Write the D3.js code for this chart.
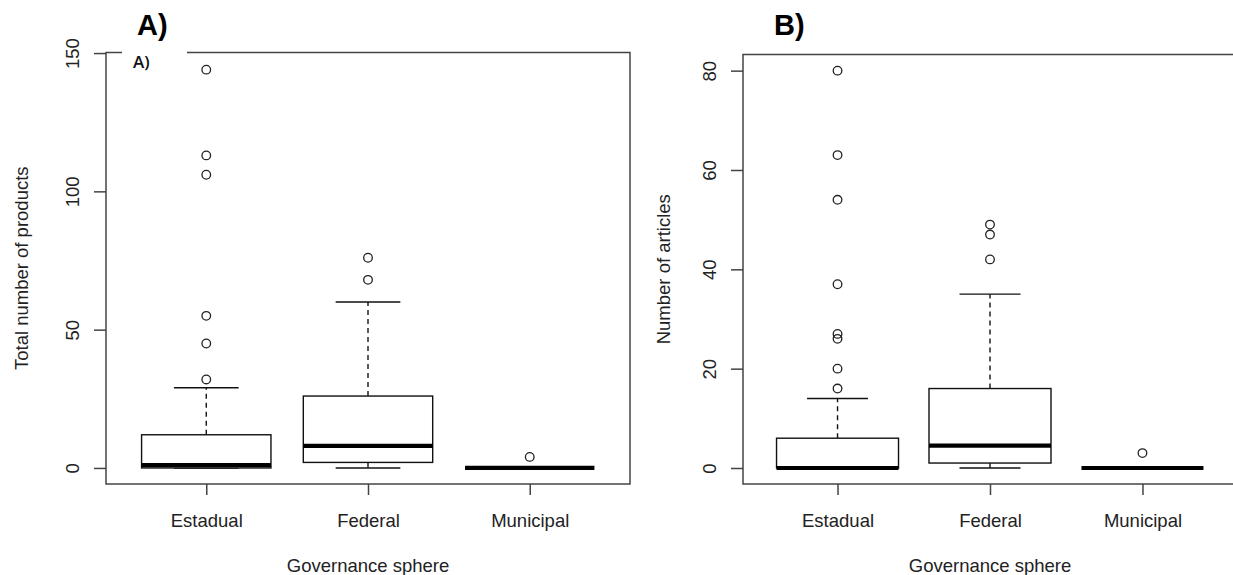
<!DOCTYPE html>
<html>
<head>
<meta charset="utf-8">
<script src="https://cdn.jsdelivr.net/npm/d3@7"></script>
<style>
  body { margin: 0; background: #fff; }
  svg { display: block; font-family: "Liberation Sans", Arial, sans-serif; }
</style>
</head>
<body>
<svg id="canvas"></svg>
<script>
let width = 1233;
let height = 575;

// categories
let categories = ['Estadual', 'Federal', 'Municipal'];

// A) total number of products
let productsQ1 = [0, 2, 0];
let productsMedian = [1, 8, 0];
let productsQ3 = [12, 26, 0];
let productsLow = [0, 0, 0];
let productsHigh = [29, 60, 0];
let productsOutliers = [[32, 45, 55, 106, 113, 144], [68, 76], [4]];
let productsTicks = [0, 50, 100, 150];

// B) number of articles
let articlesQ1 = [0, 1, 0];
let articlesMedian = [0, 4.5, 0];
let articlesQ3 = [6, 16, 0];
let articlesLow = [0, 0, 0];
let articlesHigh = [14, 35, 0];
let articlesOutliers = [[16, 20, 26, 27, 37, 54, 63, 80], [42, 47, 49], [3]];
let articlesTicks = [0, 20, 40, 60, 80];

let canvas = d3.select('#canvas').attr('width', width).attr('height', height);
canvas.append('rect').attr('width', width).attr('height', height).attr('fill', '#fff');

let axisColor = '#444';
let textColor = '#222';

let drawPanel = (p) => {
	let xScale = d3.scaleLinear().domain([0.38, 3.62]).range([p.left, p.right]);
	let yScale = d3.scaleLinear().domain(p.yDomain).range([p.bottom, p.top]);
	let step = xScale(2) - xScale(1);
	let boxW = step * 0.8;
	let capW = step * 0.4;

	let g = canvas.append('g');

	let stats = categories.map((c, i) => ({
		pos: i + 1,
		q1: p.q1[i], med: p.med[i], q3: p.q3[i],
		lo: p.lo[i], hi: p.hi[i], out: p.out[i]
	}));

	let boxes = g.selectAll('.box').data(stats).enter().append('g');

	// whiskers (dashed)
	boxes.append('line')
		.attr('x1', d => xScale(d.pos)).attr('x2', d => xScale(d.pos))
		.attr('y1', d => yScale(d.q3)).attr('y2', d => yScale(d.hi))
		.attr('stroke', '#111').attr('stroke-width', 1.4).attr('stroke-dasharray', '5,4');
	boxes.append('line')
		.attr('x1', d => xScale(d.pos)).attr('x2', d => xScale(d.pos))
		.attr('y1', d => yScale(d.q1)).attr('y2', d => yScale(d.lo))
		.attr('stroke', '#111').attr('stroke-width', 1.4).attr('stroke-dasharray', '5,4');

	// whisker caps
	['hi', 'lo'].forEach(k => {
		boxes.append('line')
			.attr('x1', d => xScale(d.pos) - capW / 2).attr('x2', d => xScale(d.pos) + capW / 2)
			.attr('y1', d => yScale(d[k])).attr('y2', d => yScale(d[k]))
			.attr('stroke', '#111').attr('stroke-width', 1.4);
	});

	// box
	boxes.append('rect')
		.attr('x', d => xScale(d.pos) - boxW / 2)
		.attr('width', boxW)
		.attr('y', d => yScale(d.q3))
		.attr('height', d => yScale(d.q1) - yScale(d.q3))
		.attr('fill', '#fff').attr('stroke', '#111').attr('stroke-width', 1.4);

	// median
	boxes.append('line')
		.attr('x1', d => xScale(d.pos) - boxW / 2).attr('x2', d => xScale(d.pos) + boxW / 2)
		.attr('y1', d => yScale(d.med)).attr('y2', d => yScale(d.med))
		.attr('stroke', '#000').attr('stroke-width', 4.2);

	// outliers
	boxes.selectAll('circle').data(d => d.out.map(v => ({ pos: d.pos, v: v }))).enter()
		.append('circle')
		.attr('cx', d => xScale(d.pos)).attr('cy', d => yScale(d.v))
		.attr('r', 4.3).attr('fill', 'none').attr('stroke', '#222').attr('stroke-width', 1.3);

	// frame
	g.append('rect')
		.attr('x', p.left).attr('y', p.top)
		.attr('width', p.right - p.left).attr('height', p.bottom - p.top)
		.attr('fill', 'none').attr('stroke', axisColor).attr('stroke-width', 1.5);

	// Draw Y Axis
	let yAxis = d3.axisLeft(yScale).tickValues(p.ticks).tickSize(12).tickFormat(d3.format('d'));
	let ya = g.append('g').attr('transform', `translate(${p.left}, 0)`).call(yAxis);
	ya.select('.domain').remove();
	ya.selectAll('line').attr('stroke', axisColor).attr('stroke-width', 1.5);
	ya.selectAll('text')
		.attr('x', 0).attr('y', 0).attr('dy', null)
		.attr('transform', `translate(${p.yLabelX - p.left}, 0) rotate(-90)`)
		.attr('text-anchor', 'middle')
		.attr('font-size', 18.5).attr('fill', textColor)
		.attr('font-family', '"Liberation Sans", Arial, sans-serif');

	// Draw X Axis
	let xAxis = d3.axisBottom(xScale).tickValues([1, 2, 3]).tickSize(11)
		.tickFormat(d => categories[d - 1]);
	let xa = g.append('g').attr('transform', `translate(0, ${p.bottom})`).call(xAxis);
	xa.select('.domain').remove();
	xa.selectAll('line').attr('stroke', axisColor).attr('stroke-width', 1.5);
	xa.selectAll('text').attr('y', 43).attr('dy', null)
		.attr('font-size', 18.5).attr('fill', textColor)
		.attr('font-family', '"Liberation Sans", Arial, sans-serif');

	// axis titles
	let midX = (p.left + p.right) / 2;
	let midY = (p.top + p.bottom) / 2;
	g.append('text').text('Governance sphere')
		.attr('x', midX).attr('y', 572)
		.attr('text-anchor', 'middle').attr('font-size', 18.5).attr('fill', textColor);
	g.append('text').text(p.yTitle)
		.attr('transform', `translate(${p.yTitleX}, ${midY}) rotate(-90)`)
		.attr('text-anchor', 'middle').attr('font-size', 18.5).attr('fill', textColor);

	// panel letter
	g.append('text').text(p.letter)
		.attr('x', p.letterX).attr('y', 35)
		.attr('font-size', 29).attr('font-weight', 'bold').attr('fill', '#000');
};

drawPanel({
	left: 106, right: 630, top: 52.5, bottom: 484,
	yDomain: [-5.8, 150.2], ticks: productsTicks,
	q1: productsQ1, med: productsMedian, q3: productsQ3,
	lo: productsLow, hi: productsHigh, out: productsOutliers,
	yTitle: 'Total number of products', yTitleX: 28, yLabelX: 79,
	letter: 'A)', letterX: 137
});

drawPanel({
	left: 743, right: 1237, top: 54.5, bottom: 484,
	yDomain: [-3.22, 83.25], ticks: articlesTicks,
	q1: articlesQ1, med: articlesMedian, q3: articlesQ3,
	lo: articlesLow, hi: articlesHigh, out: articlesOutliers,
	yTitle: 'Number of articles', yTitleX: 670, yLabelX: 716,
	letter: 'B)', letterX: 774
});

// small pasted label over the top border of panel A
canvas.append('rect').attr('x', 122).attr('y', 44).attr('width', 65).attr('height', 30).attr('fill', '#fff');
canvas.append('text').text('A)').attr('x', 133).attr('y', 68)
	.attr('font-size', 17).attr('font-weight', 600).attr('fill', '#111')
	.attr('font-family', '"Open Sans", Arial, sans-serif');
</script>
</body>
</html>
